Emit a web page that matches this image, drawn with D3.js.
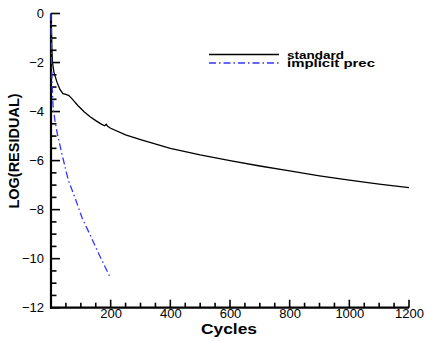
<!DOCTYPE html>
<html><head><meta charset="utf-8">
<script src="https://cdn.jsdelivr.net/npm/d3@7"></script>
<style>body{margin:0;background:#fff}</style>
</head><body>
<script>
// Data
const standardCycles = [0, 1, 3, 5, 10, 20, 30, 40, 50, 60, 70, 90, 110, 130, 150, 170, 180, 185, 190, 200, 250, 300, 400, 500, 600, 700, 800, 900, 1000, 1100, 1200];
const standardValues = [0, -0.4, -1.5, -2.0, -2.4, -2.8, -3.1, -3.27, -3.3, -3.35, -3.47, -3.75, -4.0, -4.2, -4.37, -4.52, -4.58, -4.52, -4.6, -4.68, -4.95, -5.14, -5.5, -5.77, -6.0, -6.22, -6.42, -6.62, -6.8, -6.96, -7.1];
const implicitCycles = [0, 1, 2, 4, 7, 13, 21, 36, 58, 80, 105, 130, 160, 196];
const implicitValues = [0, -1.0, -2.0, -3.0, -3.8, -4.35, -4.9, -5.7, -6.8, -7.5, -8.36, -9.0, -9.8, -10.7];
const xTicks = [200, 400, 600, 800, 1000, 1200];
const yTicks = [0, -2, -4, -6, -8, -10, -12];
const seriesNames = ["standard", "implicit prec"];

const W = 427, H = 341;
const svg = d3.select("body").append("svg").attr("width", W).attr("height", H);
const x = d3.scaleLinear().domain([0, 1200]).range([51, 409]);
const y = d3.scaleLinear().domain([-12, 0]).range([307.7, 13.5]);
const font = "'Liberation Sans', Arial, Helvetica, sans-serif";

const xMinor = d3.range(50, 1201, 50).filter(v => v % 200 !== 0);
const yMinor = d3.range(-11.5, 0, 0.5).filter(v => v % 2 !== 0);
const x0 = x(0), yb = y(-12);

// tick labels via d3 axes
svg.append("g").attr("transform", `translate(0,${yb})`)
  .call(d3.axisBottom(x).tickValues(xTicks).tickSize(0).tickPadding(1).tickFormat(d3.format("d")))
  .call(g => g.select(".domain").remove())
  .call(g => g.selectAll(".tick text").attr("font-family", font).attr("font-size", 13).attr("fill", "#000"));
svg.append("g").attr("transform", `translate(${x0},0)`)
  .call(d3.axisLeft(y).tickValues(yTicks).tickSize(0).tickPadding(7).tickFormat(d3.format("d")))
  .call(g => g.select(".domain").remove())
  .call(g => g.selectAll(".tick text").attr("font-family", font).attr("font-size", 13).attr("fill", "#000"));

// inward ticks
const tk = svg.append("g").attr("stroke", "#000").attr("stroke-width", 1.6);
tk.selectAll(".xt").data(xTicks.map(v => [v, 8]).concat(xMinor.map(v => [v, 5]))).join("line")
  .attr("x1", d => x(d[0])).attr("x2", d => x(d[0])).attr("y1", yb).attr("y2", d => yb - d[1]);
tk.selectAll(".yt").data(yTicks.map(v => [v, 9]).concat(yMinor.map(v => [v, 5.5]))).join("line")
  .attr("y1", d => y(d[0])).attr("y2", d => y(d[0])).attr("x1", x0).attr("x2", d => x0 + d[1]);

// axis lines
svg.append("line").attr("x1", x0).attr("x2", x0).attr("y1", y(0)).attr("y2", yb + 1)
  .attr("stroke", "#000").attr("stroke-width", 2.2);
svg.append("line").attr("x1", x0 - 1).attr("x2", x(1200)).attr("y1", yb).attr("y2", yb)
  .attr("stroke", "#000").attr("stroke-width", 2.2);

const line = d3.line().x(d => x(d[0])).y(d => y(d[1]));
svg.append("path").datum(standardCycles.map((c, i) => [c, standardValues[i]]))
  .attr("d", line).attr("fill", "none").attr("stroke", "#000").attr("stroke-width", 1.3);
svg.append("path").datum(implicitCycles.map((c, i) => [c, implicitValues[i]]))
  .attr("d", line).attr("fill", "none").attr("stroke", "#3535ff").attr("stroke-width", 1.3)
  .attr("stroke-dasharray", "7,3,1.5,3");

// axis titles
svg.append("text").attr("x", 229).attr("y", 334).attr("text-anchor", "middle")
  .attr("font-family", font).attr("font-weight", "bold").attr("font-size", 14.5)
  .attr("textLength", 56).attr("lengthAdjust", "spacingAndGlyphs").text("Cycles");
svg.append("text").attr("transform", `translate(19,151) rotate(-90)`).attr("text-anchor", "middle")
  .attr("font-family", font).attr("font-weight", "bold").attr("font-size", 14.5).text("LOG(RESIDUAL)");

// legend
const leg = svg.append("g");
const legY = [54.5, 63];
const legW = [57, 88];
const legStyles = [{c: "#000", d: null}, {c: "#3535ff", d: "7,3,1.5,3"}];
seriesNames.forEach((n, i) => {
  leg.append("line").attr("x1", 209).attr("x2", 279).attr("y1", legY[i]).attr("y2", legY[i])
    .attr("stroke", legStyles[i].c).attr("stroke-width", 1.3).attr("stroke-dasharray", legStyles[i].d);
  leg.append("text").attr("x", 287).attr("y", legY[i] + 4).attr("font-family", font)
    .attr("font-weight", "bold").attr("font-size", 10.5)
    .attr("textLength", legW[i]).attr("lengthAdjust", "spacingAndGlyphs").text(n);
});
</script>
</body></html>
